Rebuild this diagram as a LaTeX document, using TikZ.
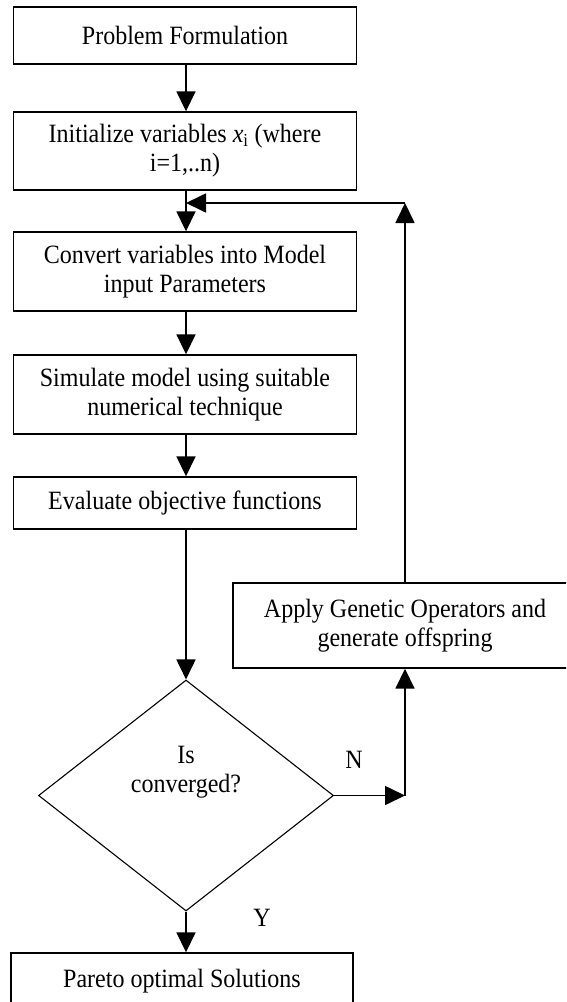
\documentclass[tikz,border=0pt]{standalone}
\usepackage{fontspec}
\setmainfont[FakeStretch=0.91]{Liberation Serif}
\usetikzlibrary{arrows.meta,shapes.geometric}
\tikzset{
  box/.style={draw, line width=1.4pt, inner sep=0pt, align=center, font=\fontsize{26.4}{29}\selectfont},
  txt/.style={inner sep=0pt, align=center, font=\fontsize{26.4}{29}\selectfont},
  conn/.style={line width=1.7pt, -{Triangle[length=20pt,width=19pt]}}
}
\begin{document}
\begin{tikzpicture}[x=1pt,y=-1pt]
\useasboundingbox (0,0) rectangle (566,1002);
\clip (0,0) rectangle (566,1002);
\fill[white] (0,0) rectangle (566,1002);
% boxes
\node[box, minimum width=343pt, minimum height=57pt] (b1) at (185,35.5) {Problem Formulation};
\node[box, minimum width=343pt, minimum height=78pt] (b2) at (185,151) {Initialize variables \textit{x}\textsubscript{i} (where\\ i=1,..n)};
\node[box, minimum width=343pt, minimum height=79pt] (b3) at (185,271.5) {Convert variables into Model\\ input Parameters};
\node[box, minimum width=343pt, minimum height=79pt] (b4) at (185,394.5) {Simulate model using suitable\\ numerical technique};
\node[box, minimum width=343pt, minimum height=52pt] (b5) at (185,503) {Evaluate objective functions};
\node[box, minimum width=344pt, minimum height=85pt] (ap) at (405,625.5) {Apply Genetic Operators and\\ generate offspring};
\node[draw, diamond, line width=1.1pt, inner sep=0pt, minimum width=295pt, minimum height=231pt] (dia) at (186,795.5) {};
\node[txt] (dt) at (186,772) {Is\\ converged?};
\node[box, minimum width=342pt, minimum height=56pt] (b6) at (182,981) {Pareto optimal Solutions};
% labels
\node[txt] (ln) at (354,760) {N};
\node[txt] (ly) at (262,918) {Y};
% coordinates
\coordinate (join) at (186,203);
\coordinate (top) at (ap.north |- join);
\coordinate (rc) at (dia.east -| ap.south);
% connectors
\draw[conn] (b1.south -| dia.north) -- (b2.north -| dia.north);
\draw[conn] (b2.south -| dia.north) -- (b3.north -| dia.north);
\draw[conn] (b3.south -| dia.north) -- (b4.north -| dia.north);
\draw[conn] (b4.south -| dia.north) -- (b5.north -| dia.north);
\draw[conn] (b5.south -| dia.north) -- (dia.north);
\draw[conn] (dia.south) -- (dia.south |- b6.north);
\draw[conn] (dia.east) -- (rc);
\draw[conn] (rc) -- (ap.south);
\draw[conn] (ap.north) -- (top);
\draw[conn] (top) -- (join);
\end{tikzpicture}
\end{document}
